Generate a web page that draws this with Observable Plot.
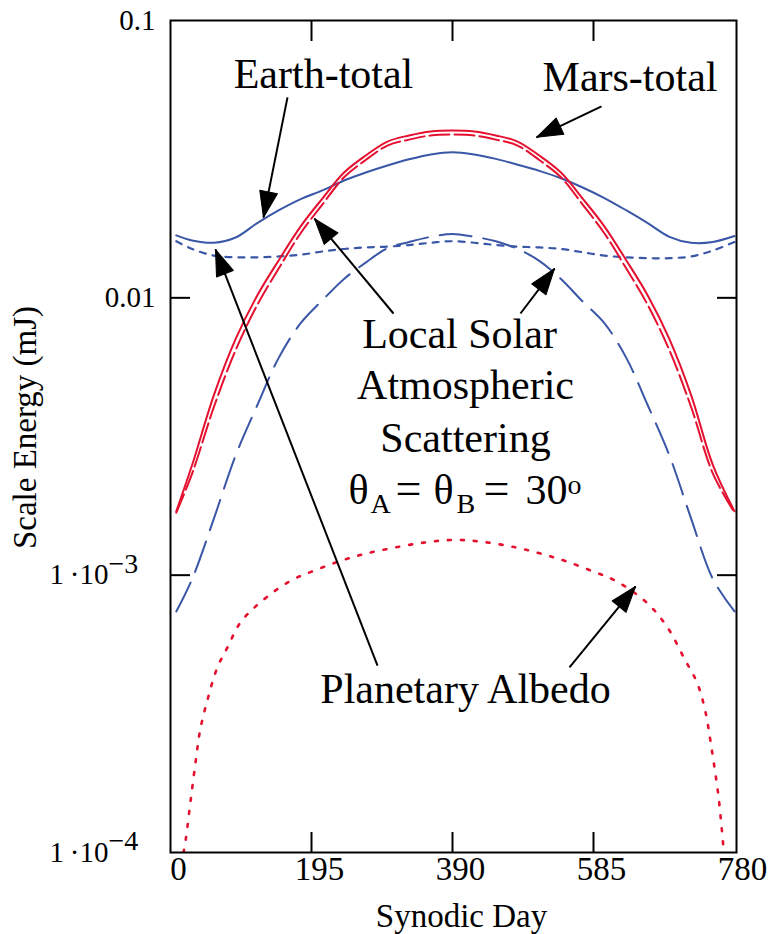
<!DOCTYPE html>
<html>
<head>
<meta charset="utf-8">
<script src="https://cdn.jsdelivr.net/npm/d3@7"></script>
<script src="https://cdn.jsdelivr.net/npm/@observablehq/plot@0.6"></script>
<style>
  html, body { margin: 0; padding: 0; background: #fff; }
  #chart svg { display: block; }
</style>
</head>
<body>
<div id="chart"></div>
<script>
// Synodic days sampled for the Earth and Mars curves
const days = [8, 30, 60, 90, 120, 150, 180, 210, 240, 270, 300, 330, 360, 390,
  420, 450, 480, 510, 540, 570, 600, 630, 660, 690, 720, 750, 780];

// Scale energy (mJ), Earth
const earthTotal = [0.0168, 0.0161, 0.0158, 0.0165, 0.0186, 0.0207, 0.0227, 0.0244, 0.0265,
  0.0283, 0.0300, 0.0316, 0.0329, 0.0335, 0.0329, 0.0317, 0.0302, 0.0287, 0.0270,
  0.0250, 0.0229, 0.0207, 0.0186, 0.0166, 0.0158, 0.0159, 0.0167];
const earthLocalSolar = [0.00074, 0.00097, 0.0016, 0.0027, 0.0041, 0.0061, 0.0081, 0.0098,
  0.0117, 0.0134, 0.0151, 0.0159, 0.0166, 0.0170, 0.0166, 0.0160, 0.0150, 0.0136,
  0.0117, 0.0097, 0.0081, 0.0061, 0.0041, 0.0027, 0.0016, 0.00097, 0.00074];
const earthAlbedo = [0.0160, 0.0150, 0.0142, 0.0140, 0.0140, 0.0141, 0.0143, 0.0147, 0.0150,
  0.0152, 0.0153, 0.0155, 0.0158, 0.0160, 0.0158, 0.0155, 0.0153, 0.0152, 0.0150,
  0.0146, 0.0142, 0.0140, 0.0139, 0.0139, 0.0141, 0.0148, 0.0159];

// Scale energy (mJ), Mars
const marsTotal = [0.0017, 0.0025, 0.00446, 0.0071, 0.0102, 0.0137, 0.0181, 0.0228, 0.0283,
  0.0326, 0.0366, 0.0385, 0.0398, 0.0401, 0.0398, 0.0385, 0.0366, 0.0326, 0.0283,
  0.0228, 0.0181, 0.0137, 0.0102, 0.0071, 0.00446, 0.0025, 0.0017];
const marsLocalSolar = [0.00168, 0.00233, 0.00404, 0.00647, 0.00942, 0.0128, 0.0171, 0.0217,
  0.0272, 0.0314, 0.0354, 0.0372, 0.0385, 0.0388, 0.0385, 0.0372, 0.0354, 0.0314,
  0.0272, 0.0217, 0.0171, 0.0128, 0.00942, 0.00647, 0.00404, 0.00233, 0.00168];
const albedoDays = [18, 21, 28, 35, 41, 51, 65, 79, 96, 123, 165, 197, 234, 267, 305, 350,
  391, 430, 477, 515, 548, 585, 617, 660, 688, 711, 728, 739, 748, 758, 765];
const marsAlbedo = [0.000100, 0.000111, 0.000155, 0.000215, 0.000276, 0.000354, 0.000466,
  0.00055, 0.000671, 0.000793, 0.000951, 0.001034, 0.001123, 0.00119, 0.00125, 0.00131,
  0.00134, 0.00132, 0.00126, 0.00119, 0.00112, 0.00103, 0.00095, 0.00079, 0.000644,
  0.000498, 0.000411, 0.000329, 0.00024, 0.000158, 0.000102];

// Axis ticks
const xTicks = [0, 195, 390, 585, 780];
const xInnerTicks = [195, 390, 585];
const yTicks = [0.1, 0.01, 0.001, 0.0001];
const yTickText = ["0.1", "0.01", "1\u2009\u00b710", "1\u2009\u00b710"];
const yTickPower = ["", "", "\u22123", "\u22124"];
const yInnerTicks = [0.01, 0.001];

// Callout labels, anchored at (day, energy) on their baseline
const labels = [
  {text: "Earth-total", day: 211.6, energy: 0.0569},
  {text: "Mars-total", day: 635.5, energy: 0.0559},
  {text: "Local Solar", day: 399.7, energy: 0.00657},
  {text: "Atmospheric", day: 408, energy: 0.0043},
  {text: "Scattering", day: 408, energy: 0.00279},
  {text: "Planetary Albedo", day: 408, energy: 0.000345}
];
// Angle condition line: theta_A = theta_B = 30 deg, set piece by piece
const thetaAnchor = {day: 246.2, energy: 0.001813};
const thetaPieces = [
  {text: "\u03b8", dx: 0, dy: 0, size: 42},
  {text: "A", dx: 22, dy: 9, size: 28},
  {text: "=", dx: 47, dy: 0, size: 46},
  {text: "\u03b8", dx: 85, dy: 0, size: 42},
  {text: "B", dx: 108, dy: 9, size: 28},
  {text: "=", dx: 135, dy: 0, size: 46},
  {text: "30", dx: 177, dy: 0, size: 42},
  {text: "o", dx: 219, dy: -10, size: 28}
];
// Callout arrows: tail and tip in (day, energy)
const arrows = [
  {tail: [161.8, 0.0528], tip: [128.6, 0.0195]},
  {tail: [596.1, 0.0490], tip: [506.2, 0.0379]},
  {tail: [308.4, 0.00878], tip: [199.1, 0.0193]},
  {tail: [484.0, 0.00878], tip: [531.1, 0.01275]},
  {tail: [286.3, 0.000472], tip: [62.2, 0.01494]},
  {tail: [551.8, 0.000465], tip: [643.1, 0.00091]}
];

const blue = "#3a56a6";
const red = "#e5102f";
const font = "'Liberation Serif', 'Times New Roman', Times, serif";

const xScale = {domain: [0, 780], range: [170, 734]};
const yScale = {type: "log", domain: [1e-4, 0.1], range: [852, 20]};
const sx = Plot.scale({x: xScale});
const sy = Plot.scale({y: yScale});

const series = [
  {days, values: earthAlbedo, stroke: blue, dash: "6,7", width: 2.2},
  {days, values: earthLocalSolar, stroke: blue, dash: "32,12", width: 2},
  {days, values: earthTotal, stroke: blue, dash: null, width: 2},
  {days: albedoDays, values: marsAlbedo, stroke: red, dash: "3,10", width: 2.6},
  {days, values: marsLocalSolar, stroke: red, dash: "20,5", width: 2},
  {days, values: marsTotal, stroke: red, dash: null, width: 2}
];

const lineMarks = series.map(s => Plot.line(
  s.days.map((d, i) => ({day: d, energy: s.values[i]})),
  {x: "day", y: "energy", stroke: s.stroke, strokeWidth: s.width,
   strokeDasharray: s.dash, curve: "catmull-rom", clip: true}
));

// Filled triangular arrowhead drawn along the vector direction
const headShape = {
  draw(context, l) {
    context.moveTo(0, -l);
    context.lineTo(-9, 0);
    context.lineTo(9, 0);
    context.closePath();
  }
};
const headAngle = a => {
  const dx = sx.apply(a.tip[0]) - sx.apply(a.tail[0]);
  const dy = sy.apply(a.tip[1]) - sy.apply(a.tail[1]);
  return Math.atan2(dx, -dy) * 180 / Math.PI;
};

const chart = Plot.plot({
  width: 770,
  height: 934,
  marginLeft: 170,
  marginRight: 34,
  marginTop: 20,
  marginBottom: 82,
  x: xScale,
  y: yScale,
  style: {fontFamily: font, background: "white", color: "black", overflow: "visible"},
  marks: [
    ...lineMarks,
    Plot.frame({stroke: "black", strokeWidth: 2}),
    // inward ticks on all four sides
    Plot.axisX(xInnerTicks, {anchor: "bottom", tickSize: -20, strokeWidth: 2, tickFormat: () => "", label: null}),
    Plot.axisX(xInnerTicks, {anchor: "top", tickSize: -20, strokeWidth: 2, tickFormat: () => "", label: null}),
    Plot.axisY(yInnerTicks, {anchor: "left", tickSize: -20, strokeWidth: 2, tickFormat: () => "", label: null}),
    Plot.axisY(yInnerTicks, {anchor: "right", tickSize: -20, strokeWidth: 2, tickFormat: () => "", label: null}),
    // x tick labels
    Plot.axisX(xTicks, {anchor: "bottom", tickSize: 0, tickPadding: 4, dx: 8, fontSize: 33, label: null}),
    // y tick labels: decimals, then mantissa and exponent of powers of ten
    Plot.text(yTicks, {y: d => d, text: (d, i) => yTickText[i], filter: (d, i) => !yTickPower[i],
      frameAnchor: "left", textAnchor: "end", dx: -15, fontSize: 29}),
    Plot.text(yTicks, {y: d => d, text: (d, i) => yTickText[i], filter: (d, i) => yTickPower[i],
      frameAnchor: "left", textAnchor: "end", dx: -62, fontSize: 29}),
    Plot.text(yTicks, {y: d => d, text: (d, i) => yTickPower[i], filter: (d, i) => yTickPower[i],
      frameAnchor: "left", textAnchor: "start", dx: -62, dy: -11, fontSize: 28}),
    // axis titles
    Plot.text(["Synodic Day"], {frameAnchor: "bottom", lineAnchor: "bottom", dx: 8, dy: 74, fontSize: 33}),
    Plot.text(["Scale Energy (mJ)"], {frameAnchor: "left", textAnchor: "middle", rotate: -90,
      dx: -145, dy: -9, fontSize: 33}),
    // callouts
    Plot.text(labels, {x: "day", y: "energy", text: "text", lineAnchor: "bottom", fontSize: 42}),
    ...thetaPieces.map(p => Plot.text([thetaAnchor], {x: "day", y: "energy", text: () => p.text,
      textAnchor: "start", lineAnchor: "bottom", dx: p.dx, dy: p.dy, fontSize: p.size})),
    Plot.link(arrows, {x1: a => a.tail[0], y1: a => a.tail[1], x2: a => a.tip[0], y2: a => a.tip[1],
      stroke: "black", strokeWidth: 2}),
    Plot.vector(arrows, {x: a => a.tip[0], y: a => a.tip[1], rotate: headAngle, length: 26,
      anchor: "end", shape: headShape, fill: "black", stroke: "black", strokeWidth: 1})
  ]
});

document.getElementById("chart").append(chart);
</script>
</body>
</html>
